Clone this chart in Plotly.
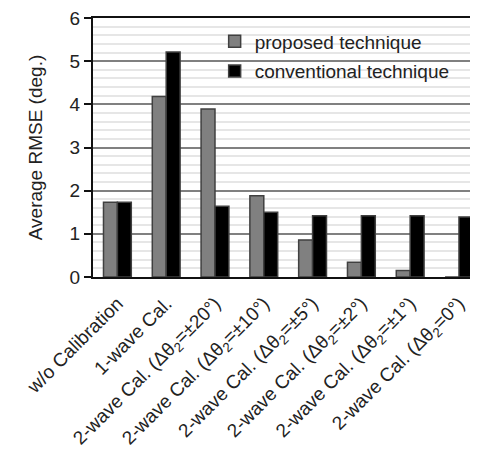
import plotly.graph_objects as go

categories = [
    "w/o Calibration",
    "1-wave Cal.",
    "2-wave Cal. (Δθ<sub>2</sub>=±20°)",
    "2-wave Cal. (Δθ<sub>2</sub>=±10°)",
    "2-wave Cal. (Δθ<sub>2</sub>=±5°)",
    "2-wave Cal. (Δθ<sub>2</sub>=±2°)",
    "2-wave Cal. (Δθ<sub>2</sub>=±1°)",
    "2-wave Cal. (Δθ<sub>2</sub>=0°)",
]
proposed = [1.73, 4.18, 3.89, 1.88, 0.86, 0.34, 0.15, 0.0]
conventional = [1.73, 5.21, 1.64, 1.50, 1.42, 1.42, 1.42, 1.39]
y_ticks = [0, 1, 2, 3, 4, 5, 6]

FONT = "Liberation Sans, Arial, sans-serif"

fig = go.Figure()
fig.add_trace(go.Bar(
    x=categories, y=proposed, name="proposed technique", legendgroup="a",
    marker=dict(color="#808080", line=dict(color="#404040", width=1.5)),
))
fig.add_trace(go.Bar(
    x=categories, y=conventional, name="conventional technique", legendgroup="b",
    marker=dict(color="#000000", line=dict(color="#404040", width=1.5)),
))

# page body has an 8px margin: figure is drawn from (8, 8)
fig.update_layout(
    width=470, height=444,
    margin=dict(l=85, r=0, t=10, b=175, autoexpand=False),
    paper_bgcolor="white", plot_bgcolor="white",
    barmode="group", bargap=0.43, bargroupgap=0,
    font=dict(family=FONT, size=19, color="#222222"),
    legend=dict(
        x=0.316, y=0.983, xanchor="left", yanchor="top",
        bgcolor="rgba(0,0,0,0)", font=dict(size=19, color="#222222"),
        itemwidth=30, tracegroupgap=2,
    ),
    showlegend=True,
)
fig.update_xaxes(
    range=[-0.5, 7.39], automargin=False,
    showline=True, linecolor="#111111", linewidth=2, mirror=True,
    showgrid=False, ticks="", tickangle=-45,
    ticklabelstandoff=6,
    tickfont=dict(family=FONT, size=19, color="#222222"),
)
fig.update_yaxes(
    range=[0, 6], tickvals=y_ticks, automargin=False,
    ticklabeloverflow="allow",
    showline=True, linecolor="#111111", linewidth=2,
    ticks="outside", ticklen=7, tickwidth=2, tickcolor="#111111",
    showgrid=True, gridcolor="#808080", gridwidth=1.5,
    minor=dict(dtick=0.2, showgrid=True, gridcolor="#e6e6e6", gridwidth=1.5),
    zeroline=False,
    tickfont=dict(family=FONT, size=19, color="#222222"),
    title=dict(text="Average RMSE (deg.)", standoff=22,
               font=dict(family=FONT, size=19, color="#222222")),
)

fig.write_html("out.html")
